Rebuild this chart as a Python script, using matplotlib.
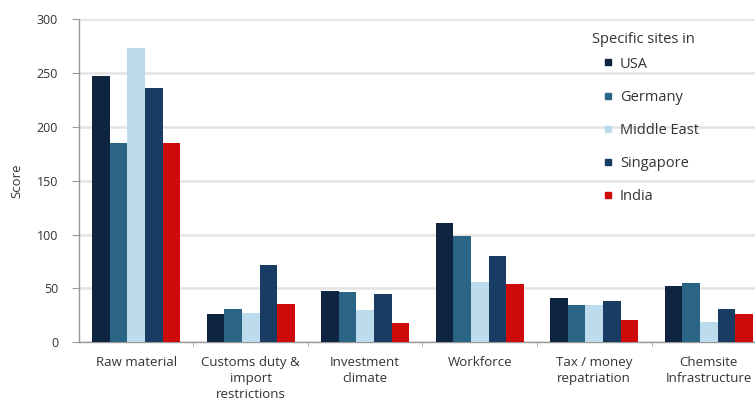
import numpy as np
import matplotlib.pyplot as plt
from matplotlib.lines import Line2D

plt.rcParams["font.family"] = ["Open Sans", "DejaVu Sans"]

categories = ["Raw material", "Customs duty &\nimport\nrestrictions", "Investment\nclimate",
              "Workforce", "Tax / money\nrepatriation", "Chemsite\nInfrastructure"]
sites = ["USA", "Germany", "Middle East", "Singapore", "India"]
usa = [247, 26, 48, 111, 41, 52]
germany = [185, 31, 47, 99, 35, 55]
middle_east = [273, 27, 30, 56, 35, 19]
singapore = [236, 72, 45, 80, 38, 31]
india = [185, 36, 18, 54, 21, 26]
colors = ["#0e2441", "#2b6585", "#bcdcee", "#183c63", "#cf0a0a"]

series = [usa, germany, middle_east, singapore, india]

fig = plt.figure(figsize=(7.55, 4.04), dpi=100)
ax = fig.add_axes([0.1046, 0.1527, 0.91, 0.80])

x = np.arange(len(categories))
w = 0.154
for i, (vals, c) in enumerate(zip(series, colors)):
    ax.bar(x + (i - 2) * w, vals, width=w, color=c, zorder=3)

ax.set_xlim(-0.5, len(categories) - 0.5)
ax.set_ylim(0, 300)
ax.set_yticks(range(0, 301, 50))
ax.yaxis.grid(True, color="#e4e4e4", linewidth=1.8, zorder=0)
ax.set_xticks(x)
ax.set_xticklabels(categories, fontsize=9.5, color="#333333", linespacing=1.3)
ax.tick_params(axis="x", length=0, pad=10)
ax.set_xticks(np.arange(0.5, len(categories) - 0.5), minor=True)
ax.tick_params(axis="x", which="minor", length=3, color="#999999")
ax.tick_params(axis="y", labelsize=9, labelcolor="#333333", length=5, color="#999999", pad=10)
ax.set_ylabel("Score", fontsize=9.5, color="#333333", labelpad=10)

for s in ["top", "right"]:
    ax.spines[s].set_visible(False)
for s in ["left", "bottom"]:
    ax.spines[s].set_color("#999999")
    ax.spines[s].set_linewidth(1.0)

fig.text(0.784, 0.901, "Specific sites in", fontsize=10.5, color="#333333", va="center")
handles = [Line2D([], [], marker="s", linestyle="none", markersize=4.5, color=c) for c in colors]
fig.legend(handles, sites, loc="upper left", bbox_to_anchor=(0.790, 0.878), frameon=False,
           fontsize=10.5, labelspacing=1.25, handlelength=0.6, handletextpad=0.5,
           labelcolor="#333333", borderpad=0)

fig.savefig("out.png", dpi=100)
